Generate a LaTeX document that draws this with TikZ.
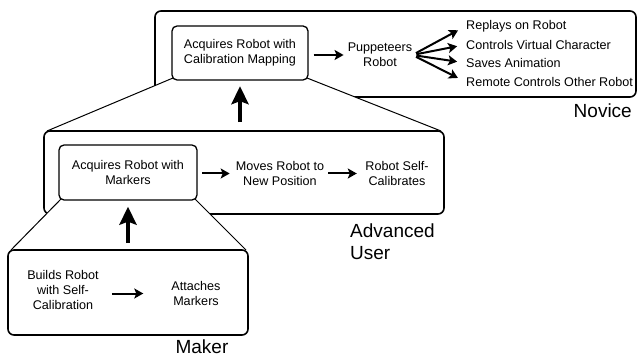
\documentclass[tikz,border=0pt]{standalone}
\usepackage{fontspec}
\setmainfont{Liberation Sans}
\usetikzlibrary{arrows.meta}
\newcommand{\smallfont}{\fontsize{12.6}{15}\selectfont}
\newcommand{\bigfont}{\fontsize{19}{22}\selectfont}

\begin{document}
\begin{tikzpicture}[x=1pt, y=-1pt,
    groupbox/.style={draw, rounded corners=6pt, line width=1.6pt, fill=white, inner sep=0pt},
    stepbox/.style={draw, rounded corners=5pt, line width=1.3pt, fill=white, align=center, font=\smallfont, inner sep=0pt},
    txt/.style={align=center, font=\smallfont, inner sep=0pt},
    role/.style={font=\bigfont, inner sep=0pt},
    flow/.style={line width=2pt, -{Stealth[length=9pt,width=10pt,inset=2pt]}},
    lift/.style={line width=4pt, -{Stealth[length=18pt,width=17pt,inset=3pt]}},
    side/.style={line width=1pt}]
    \useasboundingbox (0,0) rectangle (637,358);

    % Novice
    \node[groupbox, minimum width=481pt, minimum height=86pt] (novice) at (395.5,54) {};
    \coordinate (nt1) at (173,78);
    \coordinate (nt2) at (47,131);
    \coordinate (nt3) at (441,131);
    \coordinate (nt4) at (307,78);
    \fill[white] (nt1) -- (nt2) -- (nt3) -- (nt4) -- cycle;
    \draw[side] (nt1) -- (nt2) (nt4) -- (nt3);
    \node[stepbox, minimum width=136pt, minimum height=54pt] (calib) at (240,53) {Acquires Robot with\\Calibration Mapping};
    \node[txt] (puppet) at (380,55) {Puppeteers\\Robot};
    \node[txt, anchor=west] (replay) at (466,26) {Replays on Robot};
    \node[txt, anchor=west] (virtual) at (466,44.5) {Controls Virtual Character};
    \node[txt, anchor=west] (saves) at (466,63) {Saves Animation};
    \node[txt, anchor=west] (remote) at (466,82) {Remote Controls Other Robot};
    \node[role, anchor=base east] (novicelabel) at (632,118) {Novice};

    % Advanced user
    \node[groupbox, minimum width=400pt, minimum height=83pt] (advanced) at (244,172.5) {};
    \coordinate (mt1) at (61,199);
    \coordinate (mt2) at (11,250);
    \coordinate (mt3) at (246,250);
    \coordinate (mt4) at (195,199);
    \fill[white] (mt1) -- (mt2) -- (mt3) -- (mt4) -- cycle;
    \draw[side] (mt1) -- (mt2) (mt4) -- (mt3);
    \node[stepbox, minimum width=138pt, minimum height=55pt] (markers) at (128,172.5) {Acquires Robot with\\Markers};
    \node[txt] (moves) at (280,173.5) {Moves Robot to\\New Position};
    \node[txt] (selfcal) at (397,173.5) {Robot Self-\\Calibrates};
    \node[role, align=left, anchor=base west] (advancedlabel) at (350,259) {Advanced\\User};

    % Maker
    \node[groupbox, minimum width=240pt, minimum height=85pt] (maker) at (128,292.5) {};
    \node[txt] (builds) at (63,290) {Builds Robot\\with Self-\\Calibration};
    \node[txt] (attaches) at (196,293.5) {Attaches\\Markers};
    \node[role, anchor=base, text depth=0pt] (makerlabel) at (202,353.5) {Maker};

    % Arrows
    \draw[flow, shorten <=5pt, shorten >=4pt] (calib.east |- puppet.west) -- (puppet.west);
    \foreach \o in {replay,virtual,saves,remote}
        \draw[flow, shorten <=4pt, shorten >=9pt] (puppet.east) -- (\o.west);
    \draw[lift, shorten <=8pt, shorten >=5.5pt] (calib.south |- advanced.north) -- (calib.south);
    \draw[flow, shorten <=4.5pt, shorten >=6pt] (markers.east |- moves.west) -- (moves.west);
    \draw[flow, shorten <=4pt, shorten >=8.5pt] (moves.east) -- (selfcal.west);
    \draw[lift, shorten <=6pt, shorten >=6pt] (maker.north) -- (markers.south);
    \draw[flow, shorten <=13pt, shorten >=28pt] (builds.east |- attaches.west) -- (attaches.west);
\end{tikzpicture}
\end{document}
